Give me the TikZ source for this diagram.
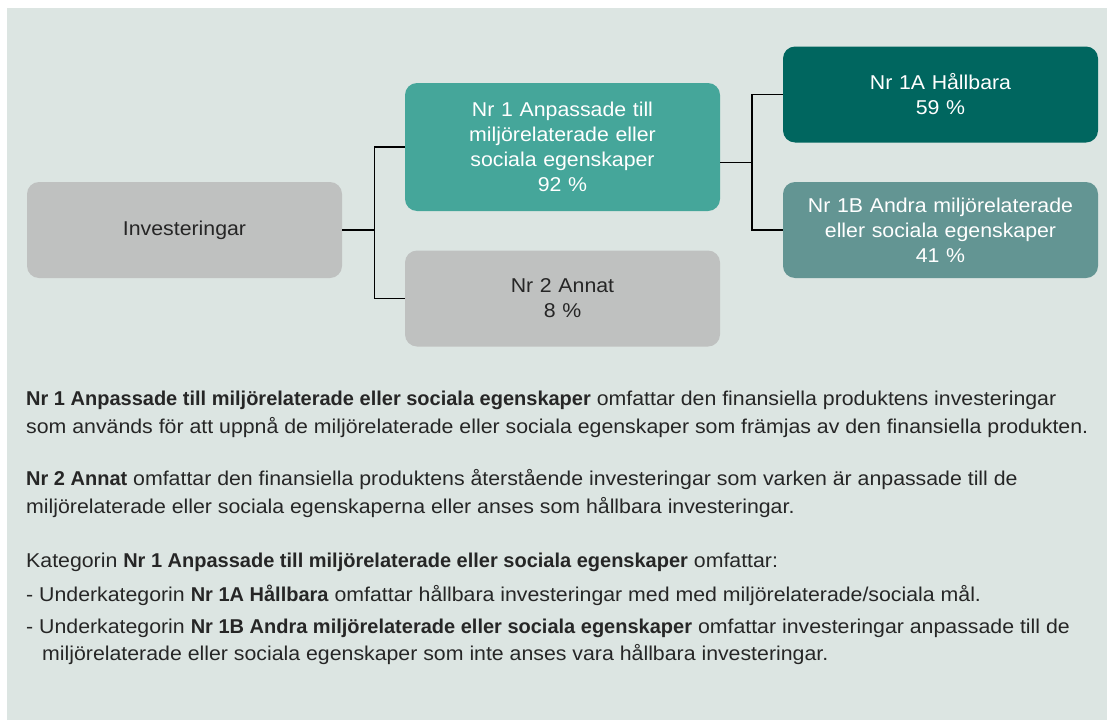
\documentclass[tikz,border=0pt]{standalone}
\usepackage{fontspec}
\setmainfont{Liberation Sans}[UprightFeatures={FakeStretch=1.065},BoldFeatures={FakeStretch=1.0}]
\usepackage{tikz}
\usetikzlibrary{calc}
\definecolor{bgcol}{HTML}{DCE5E2}
\definecolor{greybox}{HTML}{BFC1C0}
\definecolor{tealmid}{HTML}{45A69A}
\definecolor{tealdark}{HTML}{00665F}
\definecolor{tealgrey}{HTML}{639593}
\definecolor{ink}{HTML}{262626}
\newcommand{\diagfont}{\fontsize{20}{25}\selectfont}

\begin{document}
\begin{tikzpicture}[x=1pt,y=-1pt,
    box/.style={rounded corners=12pt, minimum width=315pt, minimum height=96pt,
      inner sep=0pt, text width=305pt, align=center, font=\diagfont},
    conn/.style={draw=black, line width=1.4pt},
    txt/.style={anchor=base west, inner sep=0pt, text=ink, font=\diagfont}]
  \useasboundingbox (0,0) rectangle (1107,720);
  \fill[bgcol] (7,8) rectangle (1107,720);

  \node[box, fill=greybox, text=ink] (inv) at (184.5,230) {Investeringar};
  \node[box, fill=tealmid, text=white, minimum height=128pt] (nr1) at (562.5,147)
    {Nr 1 Anpassade till\\ miljörelaterade eller\\ sociala egenskaper\\ 92 \%};
  \node[box, fill=greybox, text=ink] (nr2) at (562.5,298.5) {Nr 2 Annat\\ 8 \%};
  \node[box, fill=tealdark, text=white] (n1a) at (940.5,94.5) {Nr 1A Hållbara\\ 59 \%};
  \node[box, fill=tealgrey, text=white] (n1b) at (940.5,230)
    {Nr 1B Andra miljörelaterade\\ eller sociala egenskaper\\ 41 \%};

  \draw[conn] (inv.east) -- ++(32,0) coordinate (f1);
  \draw[conn] (nr1.west) -| (f1) |- (nr2.west);
  \coordinate (f2) at ($(n1a.west)!0.5!(n1b.west)+(-31,0)$);
  \draw[conn] (nr1.east |- f2) -- (f2);
  \draw[conn] (n1a.west) -| (f2) |- (n1b.west);

  \node[txt] (d1) at (26,405) {\textbf{Nr 1 Anpassade till miljörelaterade eller sociala egenskaper} omfattar den finansiella produktens investeringar};
  \node[txt] (d2) at (26,433) {som används för att uppnå de miljörelaterade eller sociala egenskaper som främjas av den finansiella produkten.};
  \node[txt] (d3) at (26,485) {\textbf{Nr 2 Annat} omfattar den finansiella produktens återstående investeringar som varken är anpassade till de};
  \node[txt] (d4) at (26,513) {miljörelaterade eller sociala egenskaperna eller anses som hållbara investeringar.};
  \node[txt] (d5) at (26,567) {Kategorin \textbf{Nr 1 Anpassade till miljörelaterade eller sociala egenskaper} omfattar:};
  \node[txt] (d6) at (26,601) {- Underkategorin \textbf{Nr 1A Hållbara} omfattar hållbara investeringar med med miljörelaterade/sociala mål.};
  \node[txt] (d7) at (26,633) {- Underkategorin \textbf{Nr 1B Andra miljörelaterade eller sociala egenskaper} omfattar investeringar anpassade till de};
  \node[txt] (d8) at (42,660) {miljörelaterade eller sociala egenskaper som inte anses vara hållbara investeringar.};
\end{tikzpicture}
\end{document}
